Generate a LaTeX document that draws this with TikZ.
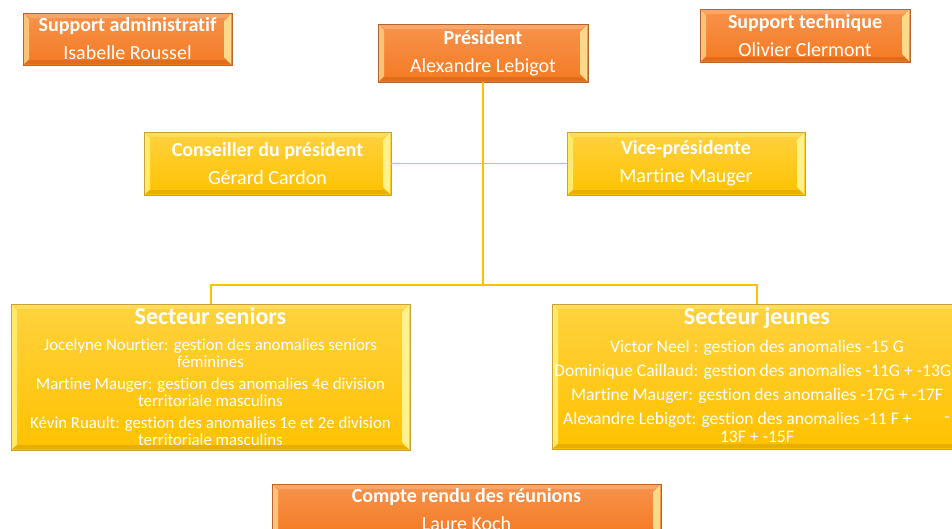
\documentclass[tikz,border=0pt]{standalone}
\usepackage{fontspec}
\setmainfont{Carlito}[Ligatures=NoCommon]
\definecolor{orgtop}{HTML}{F7934C}
\definecolor{orgbot}{HTML}{F47A22}
\definecolor{orgborder}{HTML}{B8642E}
\definecolor{orgleft}{HTML}{FBC27A}
\definecolor{orgright}{HTML}{FFD98A}
\definecolor{orgtopb}{HTML}{F9A66A}
\definecolor{orgbotb}{HTML}{E06C1C}
\definecolor{yeltop}{HTML}{FFD23F}
\definecolor{yelbot}{HTML}{FFC200}
\definecolor{yelborder}{HTML}{C9A23A}
\definecolor{yelleft}{HTML}{FFEA6A}
\definecolor{yelright}{HTML}{FFF28C}
\definecolor{yeltopb}{HTML}{FFDC5A}
\definecolor{yelbotb}{HTML}{E8AE00}
\definecolor{connc}{HTML}{FFC000}
\definecolor{connl}{HTML}{FFC61A}
\tikzset{
  x=1pt, y=-1pt,
  bev/.style={rectangle, inner sep=0pt, text=white, align=center,
    draw=#1border, line width=0.8pt, top color=#1top, bottom color=#1bot,
    path picture={
      \fill[#1topb] ([shift={(1,1)}]path picture bounding box.north west) -- ([shift={(-1,1)}]path picture bounding box.north east)
        -- ([shift={(-7,5)}]path picture bounding box.north east) -- ([shift={(7,5)}]path picture bounding box.north west) -- cycle;
      \fill[#1botb] ([shift={(1,-1)}]path picture bounding box.south west) -- ([shift={(-1,-1)}]path picture bounding box.south east)
        -- ([shift={(-7,-5)}]path picture bounding box.south east) -- ([shift={(7,-5)}]path picture bounding box.south west) -- cycle;
      \fill[#1left] ([shift={(1,1)}]path picture bounding box.north west) -- ([shift={(6,6)}]path picture bounding box.north west)
        -- ([shift={(6,-6)}]path picture bounding box.south west) -- ([shift={(1,-1)}]path picture bounding box.south west) -- cycle;
      \fill[#1right] ([shift={(-1,1)}]path picture bounding box.north east) -- ([shift={(-8,8)}]path picture bounding box.north east)
        -- ([shift={(-8,-8)}]path picture bounding box.south east) -- ([shift={(-1,-1)}]path picture bounding box.south east) -- cycle;
    }},
  smallbox/.style={bev=#1, font=\fontsize{20}{28}\selectfont},
  conn/.style={draw=connc, line width=2pt},
  thinconn/.style={draw=connl, line width=1.5pt},
  sectitle/.style={text=white, font=\bfseries\fontsize{24}{28}\selectfont, inner sep=0pt},
  sectxt/.style={text=white, font=\fontsize{16.8}{17}\selectfont, align=center, inner sep=0pt},
  jeutxt/.style={text=white, font=\fontsize{17.6}{17}\selectfont, align=center, inner sep=0pt},
}
\begin{document}
\begin{tikzpicture}
\useasboundingbox (0,0) rectangle (952,528);
% top row
\node[smallbox=org, minimum width=209pt, minimum height=52pt] (admin) at (127.5,39) {\textbf{Support administratif}\\Isabelle Roussel};
\node[smallbox=org, minimum width=210pt, minimum height=58pt] (pres) at (483,53) {\textbf{Président}\\Alexandre Lebigot};
\node[smallbox=org, minimum width=210pt, minimum height=53pt] (tech) at (805,35.5) {\textbf{Support technique}\\Olivier Clermont};
% second row
\node[smallbox=yel, minimum width=247pt, minimum height=63pt] (cons) at (267.5,163.5) {\textbf{Conseiller du président}\\Gérard Cardon};
\node[smallbox=yel, minimum width=238pt, minimum height=63pt] (vice) at (686,163.5) {\textbf{Vice-présidente}\\Martine Mauger};
% sectors
\node[bev=yel, minimum width=399pt, minimum height=146pt] (sen) at (210.5,377) {};
\node[bev=yel, minimum width=410pt, minimum height=145pt] (jeu) at (757,376.5) {};
% bottom
\node[smallbox=org, minimum width=389pt, minimum height=52pt] (cr) at (466.5,510) {\textbf{Compte rendu des réunions}\\Laure Koch};
% connectors
\coordinate (j) at (483,285);
\draw[conn] (pres.south) -- (j);
\draw[conn] (sen.north) |- (j) -| (jeu.north);
\draw[thinconn] (cons.east) -- (vice.west);
% sector texts
\node[sectitle] (sent) at (210.5,316) {Secteur seniors};
\node[sectxt] (sen1) at (210.5,353.5) {Jocelyne Nourtier: gestion des anomalies seniors\\féminines};
\node[sectxt] (sen2) at (210.5,392.5) {Martine Mauger: gestion des anomalies 4e division\\territoriale masculins};
\node[sectxt] (sen3) at (210.5,431.5) {Kévin Ruault: gestion des anomalies 1e et 2e division\\territoriale masculins};
\node[sectitle] (jeut) at (757,318) {Secteur jeunes};
\node[jeutxt] (jeu1) at (757,348) {Victor Neel : gestion des anomalies -15 G};
\node[jeutxt, anchor=west] (jeu2) at (554,372) {Dominique Caillaud: gestion des anomalies -11G + -13G};
\node[jeutxt] (jeu3) at (757,396) {Martine Mauger: gestion des anomalies -17G + -17F};
\node[jeutxt, anchor=west] (jeu4) at (563,420) {Alexandre Lebigot: gestion des anomalies -11 F +};
\node[jeutxt] (jeu4b) at (947,420) {-};
\node[jeutxt] (jeu5) at (757,437) {13F + -15F};
\end{tikzpicture}
\end{document}
